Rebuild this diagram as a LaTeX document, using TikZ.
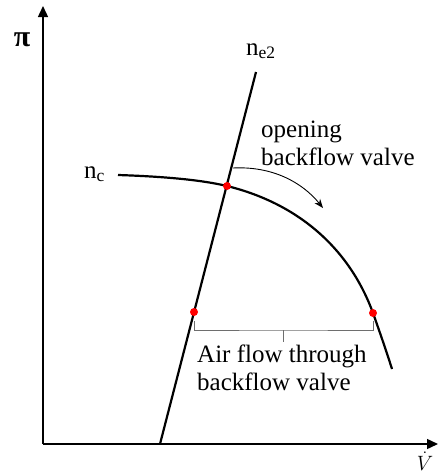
\documentclass[tikz,border=0pt]{standalone}
\usepackage{amsmath, amssymb}
\usepackage{fontspec}
\setmainfont{Liberation Serif}
\usepackage{tikz}
\usetikzlibrary{arrows.meta, positioning, calc}
\definecolor{dotred}{RGB}{255, 0, 0}
\definecolor{bracketgray}{RGB}{110, 110, 110}

\begin{document}
\begin{tikzpicture}[
    x=1pt, y=-1pt,
    font=\fontsize{25}{28}\selectfont,
    axis/.style={line width=1.4pt, -{Triangle[length=11pt, width=10pt]}},
    curve/.style={line width=2.2pt},
    dot/.style={circle, fill=dotred, inner sep=0pt, minimum size=8pt},
    bracket/.style={bracketgray, line width=0.9pt},
    label/.style={anchor=base west, align=left, inner sep=0pt}
]
\useasboundingbox (0,0) rectangle (439,475);

% Axes
\coordinate (O) at (43,444);
\coordinate (ytip) at (43,6);
\coordinate (xtip) at (438,444);
\draw[axis] (O) -- (ytip);
\draw[axis] (O) -- (xtip);
\node[inner sep=0pt, font=\fontsize{30}{30}\selectfont] (pi) at (22,40) {\bfseries π};
\node[inner sep=0pt, font=\fontsize{21}{21}\selectfont] (vdot) at (425,461) {$\dot{V}$};

% Characteristic lines
\coordinate (ebot) at (160,444);
\coordinate (etop) at (256,72);
\coordinate (cstart) at (118,175);
\coordinate (cend) at (392,369);
\draw[curve] (ebot) -- (etop);
\draw[curve] (cstart) .. controls (180,177) and (210,182) .. (227,186)
    .. controls (300,204) and (350,250) .. (373,313)
    .. controls (379,330) and (386,350) .. (cend);

% Points
\node[dot] (op) at (227,186) {};
\node[dot] (pl) at (194,312) {};
\node[dot] (pr) at (373,313) {};

% Labels
\node[label] (ne) at (246,55) {n\textsubscript{e2}};
\node[label] (nc) at (84,178) {n\textsubscript{c}};
\node[label] (open) at (261,165) {opening\\backflow valve};
\node[label] (air) at (197,390) {Air flow through\\backflow valve};

% Valve opening arrow
\coordinate (astart) at (233,168);
\coordinate (aend) at (323,208);
\draw[line width=0.9pt, -{Stealth[length=9pt, width=7pt]}] (astart) .. controls (272,166) and (302,182) .. (aend);

% Bracket
\coordinate (bl) at ($(pl)+(0,9)$);
\coordinate (br) at ($(pr)+(0,8)$);
\coordinate (bm) at (283,330);
\draw[bracket] (bl) |- (bm) -| (br);
\draw[bracket] (bm) -- ++(0,12);

\end{tikzpicture}
\end{document}
